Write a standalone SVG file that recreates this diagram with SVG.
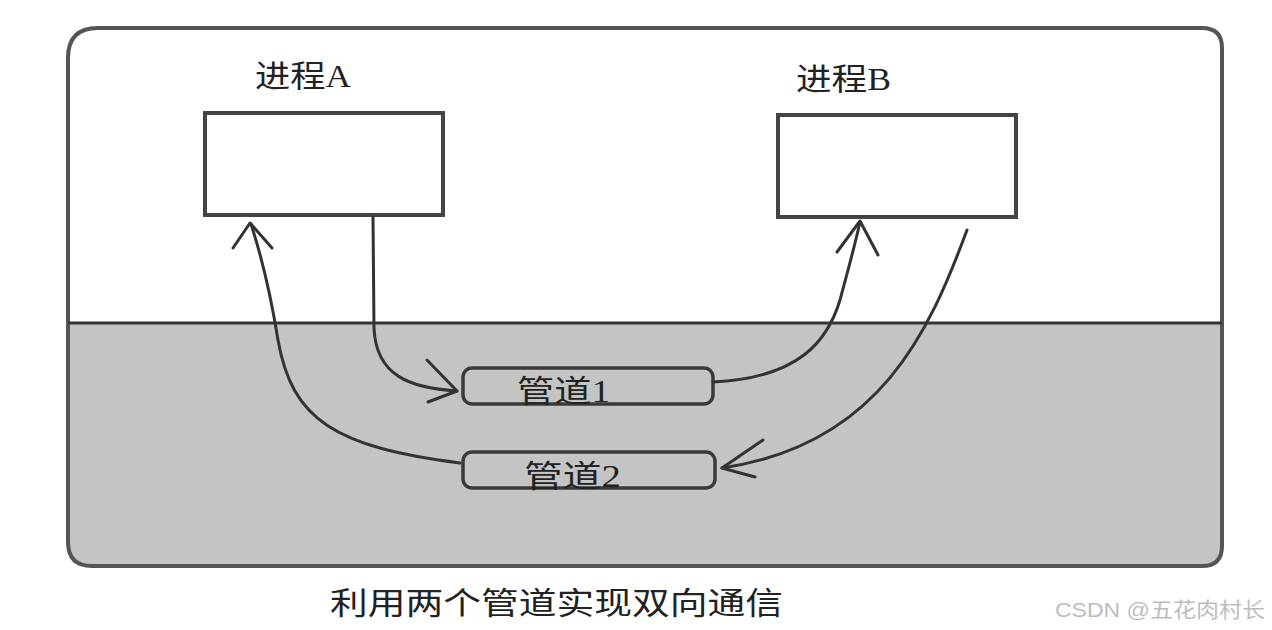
<svg xmlns="http://www.w3.org/2000/svg" width="1272" height="630" viewBox="0 0 1272 630">
<style>
.frame{fill:none;stroke:#555;stroke-width:4}
.box{fill:#fff;stroke:#444;stroke-width:4}
.pipe{fill:#c4c4c4;stroke:#3a3a3a;stroke-width:3.5}
.conn{fill:none;stroke:#333;stroke-width:3;stroke-linecap:round;stroke-linejoin:round}
.lbl{font-family:"Liberation Serif","Noto Sans CJK SC",serif;font-size:31px;fill:#222}
.cap{font-family:"Noto Sans CJK SC",sans-serif;font-size:31px;fill:#222}
.wm{font-family:"Liberation Sans","Noto Sans CJK SC",sans-serif;font-size:21px;fill:#bdbdbd}
</style>
<rect x="0" y="0" width="1272" height="630" fill="#fff"/>
<g id="frame">
<path d="M68,323 L1222,323 L1222,546 Q1222,566 1202,566 L92,566 Q68,566 68,542 Z" fill="#c4c4c4"/>
<path class="frame" d="M98,28 L1202,28 Q1222,28 1222,48 L1222,546 Q1222,566 1202,566 L92,566 Q68,566 68,542 L68,58 Q68,28 98,28 Z"/>
<line x1="68" y1="323" x2="1222" y2="323" stroke="#333" stroke-width="3"/>
</g>
<g id="procA">
<rect class="box" x="205" y="113" width="238" height="102"/>
<text class="lbl" x="255" y="87" textLength="96" lengthAdjust="spacingAndGlyphs">进程A</text>
</g>
<g id="procB">
<rect class="box" x="778" y="115" width="238" height="102"/>
<text class="lbl" x="796" y="90" textLength="95" lengthAdjust="spacingAndGlyphs">进程B</text>
</g>
<g id="pipe1">
<rect class="pipe" x="463" y="368" width="250" height="36" rx="9"/>
<text class="lbl" x="517" y="402" textLength="93" lengthAdjust="spacingAndGlyphs">管道1</text>
</g>
<g id="pipe2">
<rect class="pipe" x="463" y="452" width="252" height="36" rx="9"/>
<text class="lbl" x="524" y="487" textLength="97" lengthAdjust="spacingAndGlyphs">管道2</text>
</g>
<g id="connectors">
<path class="conn" d="M373,217 L374,328 C376,376 410,388 457,391"/>
<path class="conn" d="M427,360 L457,391 L428,402"/>
<path class="conn" d="M713,382 C800,378 828,340 840,300 C848,270 855,245 860,222"/>
<path class="conn" d="M837,252 L860,221 L878,255"/>
<path class="conn" d="M967,230 C930,330 880,445 722,468"/>
<path class="conn" d="M763,440 L722,468 L755,477"/>
<path class="conn" d="M460,463 C335,447 292,420 278,340 C270,290 262,258 251,224"/>
<path class="conn" d="M233,248 L250,223 L272,248"/>
</g>
<text class="cap" x="330" y="614" textLength="453" lengthAdjust="spacingAndGlyphs">利用两个管道实现双向通信</text>
<text class="wm" x="1055" y="617" textLength="210" lengthAdjust="spacingAndGlyphs">CSDN @五花肉村长</text>
</svg>
